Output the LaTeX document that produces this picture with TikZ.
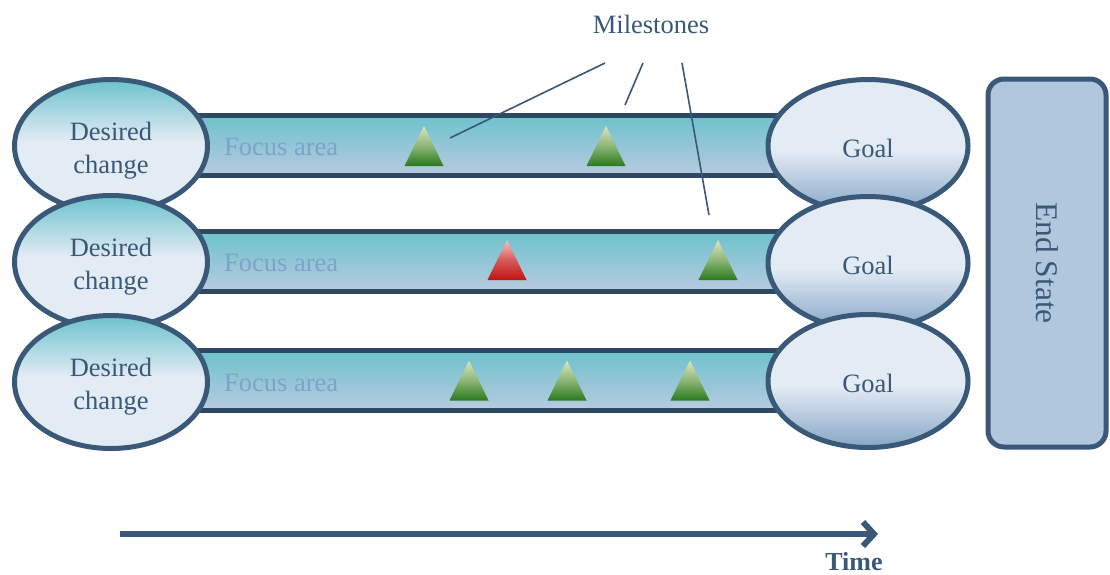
\documentclass[tikz,border=0pt]{standalone}
\usepackage{fontspec}
\setmainfont{Liberation Serif}
\usetikzlibrary{shapes.geometric,arrows.meta}
\definecolor{edge}{HTML}{3A5878}
\definecolor{baredge}{HTML}{2E4862}
\definecolor{tealc}{HTML}{6CC2CC}
\definecolor{lightc}{HTML}{E3EBF4}
\definecolor{barbot}{HTML}{B8CAE0}
\definecolor{goalbot}{HTML}{86A6C6}
\definecolor{focusc}{HTML}{7EA2C9}
\definecolor{endfill}{HTML}{B0C7DE}
\definecolor{gdark}{HTML}{2A7A1E}
\definecolor{glight}{HTML}{DCE6BE}
\definecolor{rdark}{HTML}{C41212}
\definecolor{rlight}{HTML}{F2C4C4}
\pgfdeclareverticalshading{leftshade}{100bp}{color(0bp)=(lightc); color(25bp)=(lightc); color(52bp)=(lightc); color(75bp)=(tealc); color(100bp)=(tealc)}
\pgfdeclareverticalshading{goalshade}{100bp}{color(0bp)=(goalbot); color(25bp)=(goalbot); color(48bp)=(lightc); color(75bp)=(lightc); color(100bp)=(lightc)}
\newcommand\twolines[2]{\raisebox{6pt}[0pt][0pt]{\begin{tabular}[t]{@{}c@{}}#1\\#2\end{tabular}}}
\newcommand\oneline[1]{\raisebox{-11pt}[0pt][0pt]{#1}}
\tikzset{
  lbl/.style={font=\fontsize{26.5}{33}\selectfont, text=edge},
  startell/.style={ellipse, draw=edge, line width=5, shading=leftshade, minimum width=193, minimum height=133, inner sep=0, lbl},
  goalell/.style={ellipse, draw=edge, line width=5, shading=goalshade, minimum width=200, minimum height=133, inner sep=0, lbl},
  barbox/.style={rectangle, draw=baredge, line width=5, top color=tealc, middle color=lightc, bottom color=barbot, minimum width=600, minimum height=60, inner sep=0},
  focus/.style={anchor=base west, font=\fontsize{26.5}{30}\selectfont, text=focusc, inner sep=0},
  msline/.style={draw=edge, line width=1.6},
  greentri/.pic={\shade[top color=glight, bottom color=gdark, middle color=gdark!45!glight] (-19.5,20) -- (0,-20) -- (19.5,20) -- cycle;},
  redtri/.pic={\shade[top color=rlight, bottom color=rdark, middle color=rdark!60!rlight] (-19.5,20) -- (0,-20) -- (19.5,20) -- cycle;},
}
\begin{document}
\begin{tikzpicture}[x=1pt,y=-1pt]
\useasboundingbox (0,0) rectangle (1110,574);
% bars
\node[barbox] (b1) at (490,145) {};
\node[barbox] (b2) at (490,261) {};
\node[barbox] (b3) at (490,380) {};
\node[focus] (f1) at (224,155) {Focus area};
\node[focus] (f2) at (224,271) {Focus area};
\node[focus] (f3) at (224,391) {Focus area};
% milestones
\pic at (424,146) {greentri};
\pic at (606,146) {greentri};
\pic at (507,260) {redtri};
\pic at (718,260) {greentri};
\pic at (469,380.5) {greentri};
\pic at (567,380.5) {greentri};
\pic at (690,380.5) {greentri};
% ellipses
\node[startell] (d1) at (111,146) {\twolines{Desired}{change}};
\node[startell] (d2) at (111,262) {\twolines{Desired}{change}};
\node[startell] (d3) at (111,382) {\twolines{Desired}{change}};
\node[goalell] (g1) at (868,146) {\oneline{Goal}};
\node[goalell] (g2) at (868,263) {\oneline{Goal}};
\node[goalell] (g3) at (868,381) {\oneline{Goal}};
% end state
\node[draw=edge, line width=5, fill=endfill, rounded corners=16, minimum width=368, minimum height=118, rotate=-90, text=edge, font=\fontsize{31.5}{36}\selectfont] (es) at (1047,263) {End State};
% milestones label and lines
\node[lbl] (ms) at (651,24) {Milestones};
\coordinate (s1) at (605,63); \coordinate (e1) at (450,138);
\coordinate (s2) at (643,63); \coordinate (e2) at (625,105);
\coordinate (s3) at (682,63); \coordinate (e3) at (709,215);
\draw[msline] (s1) -- (e1);
\draw[msline] (s2) -- (e2);
\draw[msline] (s3) -- (e3);
% time arrow
\coordinate (ts) at (120,534);
\coordinate (te) at (878,534);
\draw[draw=edge, line width=6, -{Straight Barb[length=11,width=24]}] (ts) -- (te);
\node[anchor=base, inner sep=0, text=edge, font=\fontsize{26}{30}\selectfont\bfseries] (time) at (854,570) {Time};
\end{tikzpicture}
\end{document}
